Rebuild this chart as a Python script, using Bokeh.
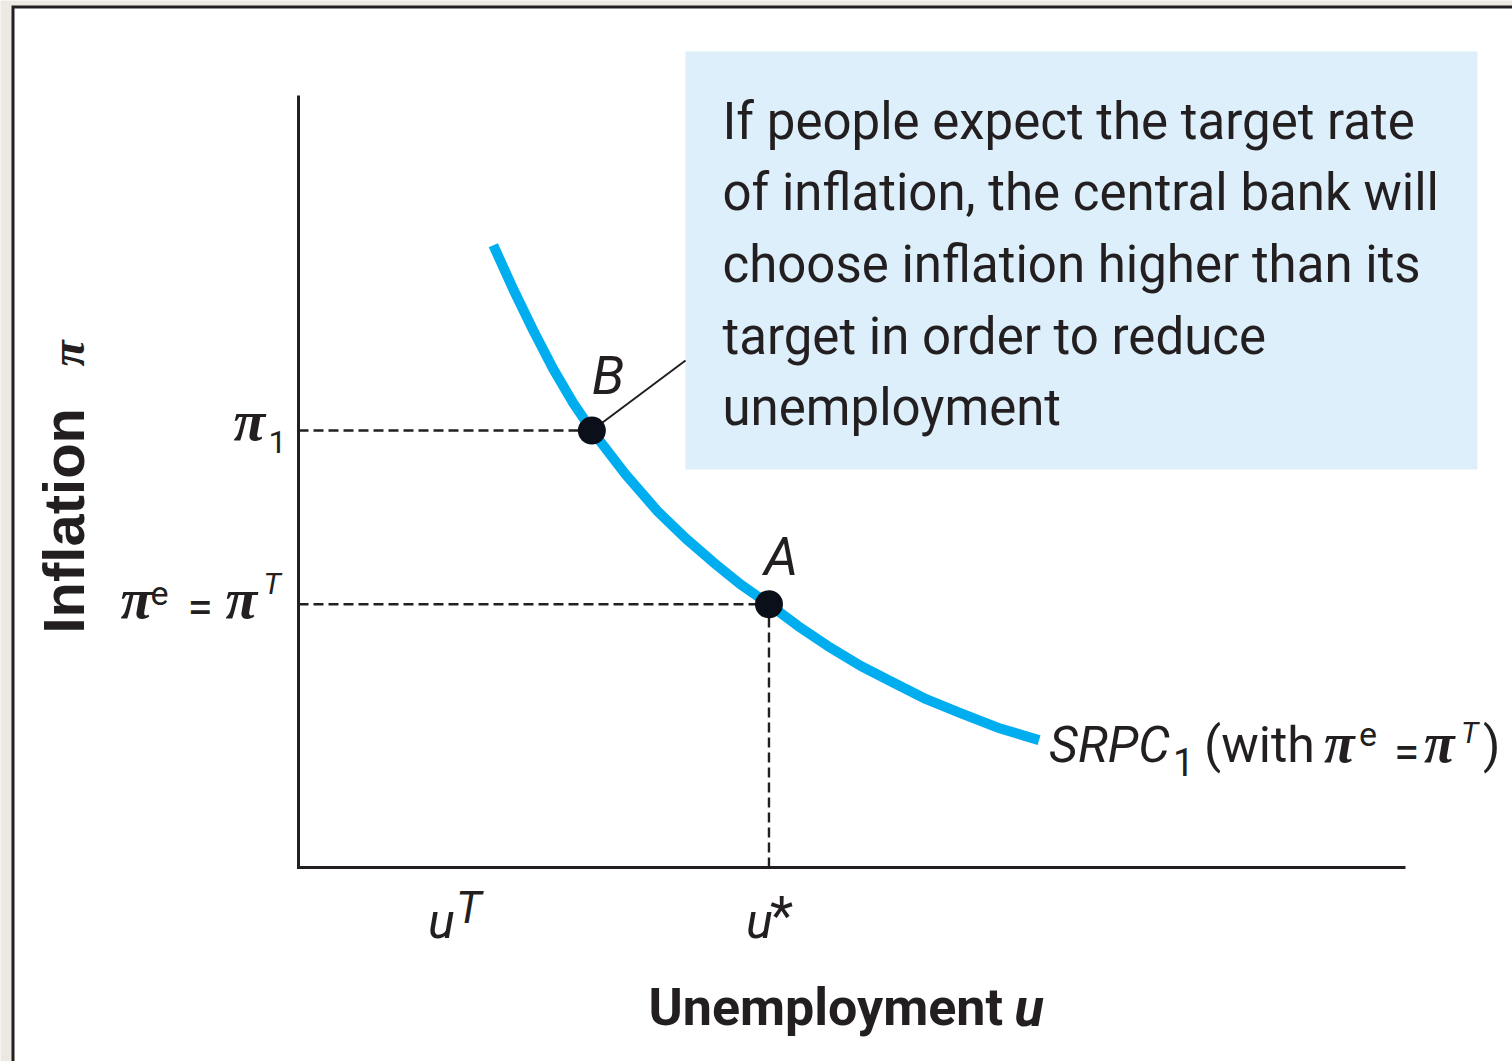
from math import pi as PI_RAD
from bokeh.plotting import figure
from bokeh.models import Range1d, BoxAnnotation
from bokeh.core.properties import value
from bokeh.embed import file_html
from bokeh.resources import INLINE

# ---------------- data ----------------
curve_u = [1.76, 1.94, 2.12, 2.30, 2.48, 2.65, 2.95, 3.24, 3.50, 3.75,
           3.99, 4.25, 4.51, 4.78, 5.08, 5.38, 5.67, 5.98, 6.34, 6.69]
curve_pi = [8.06, 7.49, 6.96, 6.46, 6.02, 5.66, 5.10, 4.62, 4.26, 3.95,
            3.67, 3.41, 3.13, 2.87, 2.61, 2.39, 2.18, 2.00, 1.80, 1.65]

point_labels = ["B", "A"]
point_u = [2.65, 4.25]
point_pi = [5.66, 3.41]

U_T = 1.35
U_STAR = 4.25
PI_T = 3.41
PI_1 = 5.66
U_MAX = 10.0
PI_MAX = 10.0

box_lines = [
    "If people expect the target rate",
    "of inflation, the central bank will",
    "choose inflation higher than its",
    "target in order to reduce",
    "unemployment",
]
x_title = "Unemployment"
y_title = "Inflation"

# ---------------- layout ----------------
W, H = 1512, 1061
PX = 110.7   # pixels per unemployment unit
PY = 77.2    # pixels per inflation unit
OX, OY = 298, 867  # origin position on the canvas (px)

X_START = -OX / PX
X_END = (W - OX) / PX
Y_END = OY / PY
Y_START = -(H - OY) / PY

INK = "#231F20"
BLUE = "#00AEEF"
DOT = "#0B0F1A"
BOXFILL = "#DDEFFA"
BEIGE = "#ECE9E2"

SANS = "Roboto"
SERIF = "Liberation Serif"
BASE_CORR = 0.34  # baseline correction (fraction of font size)

p = figure(width=W, height=H, x_range=Range1d(X_START, X_END), y_range=Range1d(Y_START, Y_END),
           x_axis_type=None, y_axis_type=None, toolbar_location=None, output_backend="svg",
           min_border=0, outline_line_color=None, title=None,
           background_fill_color=BEIGE, border_fill_color=BEIGE)


def fx(px):
    return (px - OX) / PX


def fy(py):
    return (OY - py) / PY


# page frame: dark rule then white sheet
p.add_layout(BoxAnnotation(left=fx(11), right=X_END, top=fy(5), bottom=Y_START,
                           fill_color=INK, fill_alpha=1, line_color=None, level="underlay"))
p.add_layout(BoxAnnotation(left=fx(14), right=X_END, top=fy(8), bottom=Y_START,
                           fill_color="white", fill_alpha=1, line_color=None, level="underlay"))


def at(x, y, dx, dy):
    """data anchor shifted by dx px right and dy px down"""
    return x + dx / PX, y - dy / PY


def txt(x, y, dx, dy, s, size, font=SANS, style="normal", color=INK, angle=0.0):
    corr = BASE_CORR * size
    if angle == 0.0:
        dy -= corr
    else:
        dx -= corr
    xx, yy = at(x, y, dx, dy)
    p.text(x=[xx], y=[yy], text=[s], text_font=value(font), text_font_size=f"{size}px",
           text_font_style=style, text_color=color, text_align="left",
           text_baseline="alphabetic", angle=angle)


# annotation box
BOX_L, BOX_R = fx(685), fx(1477)
BOX_T, BOX_B = fy(51), fy(469)
p.quad(left=[BOX_L], right=[BOX_R], top=[BOX_T], bottom=[BOX_B], fill_color=BOXFILL, line_color=None)
for i, line in enumerate(box_lines):
    txt(BOX_L, BOX_T, 37, 87 + i * 71.7, line, 51)

# leader line from B to the box
p.line([point_u[0], BOX_L], [point_pi[0], fy(360)], line_color=INK, line_width=2)

# axes
p.line([0, 0, U_MAX], [PI_MAX, 0, 0], line_color=INK, line_width=3, line_join="miter")

# dashed guides
DASH = dict(line_color=INK, line_width=2.4, line_dash="10 5")
p.line([0, point_u[0]], [PI_1, PI_1], **DASH)
p.line([0, U_STAR], [PI_T, PI_T], **DASH)
p.line([U_STAR, U_STAR], [0, PI_T], **DASH)

# SRPC curve
p.line(curve_u, curve_pi, line_color=BLUE, line_width=10, line_join="round", line_cap="butt")

# points
p.scatter(point_u, point_pi, size=28, fill_color=DOT, line_color=None)
txt(point_u[0], point_pi[0], 0, -37, point_labels[0], 54, style="italic")
txt(point_u[1], point_pi[1], -5, -29, point_labels[1], 54, style="italic")

# y tick labels
txt(0, PI_1, -65, 10, "π", 58, font=SERIF, style="bold italic")
txt(0, PI_1, -30, 22, "1", 32)

txt(0, PI_T, -178, 14, "π", 58, font=SERIF, style="bold italic")
txt(0, PI_T, -148, 0, "e", 34)
txt(0, PI_T, -111, 18, "=", 46)
txt(0, PI_T, -73, 14, "π", 58, font=SERIF, style="bold italic")
txt(0, PI_T, -35, -11, "T", 30, style="italic")

# x tick labels
txt(U_T, 0, -20, 70, "u", 50, style="italic")
txt(U_T, 0, 8, 55, "T", 44, style="italic")
txt(U_STAR, 0, -23, 70, "u", 50, style="italic")
txt(U_STAR, 0, 1, 66, "*", 54)

# curve label
ex, ey = curve_u[-1], curve_pi[-1]
txt(ex, ey, 10, 22, "SRPC", 50, style="italic")
txt(ex, ey, 134, 35, "1", 38)
txt(ex, ey, 165, 22, "(with", 50)
txt(ex, ey, 285, 22, "π", 56, font=SERIF, style="bold italic")
txt(ex, ey, 320, 5, "e", 34)
txt(ex, ey, 355, 28, "=", 46)
txt(ex, ey, 385, 22, "π", 56, font=SERIF, style="bold italic")
txt(ex, ey, 422, 3, "T", 30, style="italic")
txt(ex, ey, 444, 22, ")", 50)

# axis titles
txt(0, 0, 350, 158, x_title, 52, style="bold")
txt(0, 0, 716, 158, "u", 54, style="bold italic")
txt(0, 0, -215, -234, y_title, 58, font="Liberation Sans", style="bold", angle=PI_RAD / 2)
txt(0, 0, -215, -501, "π", 48, font=SERIF, style="bold italic", angle=PI_RAD / 2)

open("out.html", "w").write(file_html(p, INLINE))
